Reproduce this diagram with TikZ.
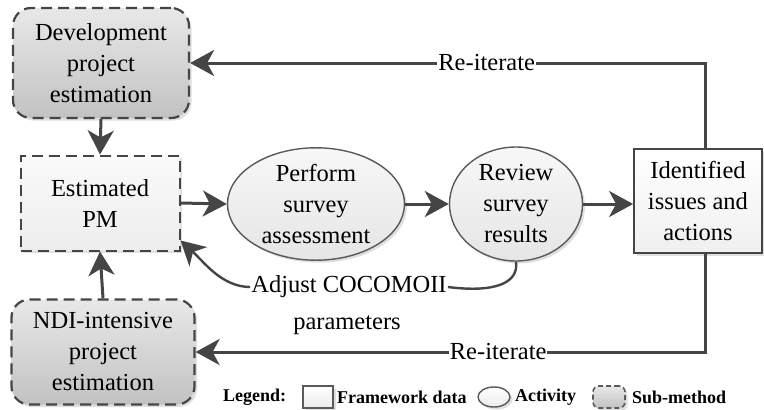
\documentclass[tikz,border=0pt]{standalone}
\usepackage{fontspec}
\setmainfont{Liberation Serif}
\usetikzlibrary{shapes.geometric,arrows.meta,shadows,calc}

\definecolor{ln}{HTML}{454545}
\definecolor{edge}{HTML}{5A5A5A}

\begin{document}
\begin{tikzpicture}[x=1pt,y=-1pt,
  txt/.style={font=\fontsize{24.5}{31}\selectfont, align=center, text=black},
  shade/.style={drop shadow={shadow xshift=2.5pt, shadow yshift=-2.5pt, fill=black!25, opacity=0.5}},
  submethod/.style={txt, shade, draw=ln, line width=2.2pt, dash pattern=on 11pt off 6pt,
    rounded corners=18pt, top color=black!9, bottom color=black!24, inner sep=0pt},
  estbox/.style={txt, shade, draw=ln, line width=2pt, dash pattern=on 11pt off 6pt,
    top color=black!2, bottom color=black!7, inner sep=0pt},
  databox/.style={txt, shade, draw=ln, line width=1.8pt, top color=white, bottom color=black!6, inner sep=0pt},
  activity/.style={txt, shade, ellipse, draw=edge, line width=1.4pt, top color=black!3, bottom color=black!10, inner sep=0pt},
  flow/.style={draw=ln, line width=3pt, -{Stealth[length=24pt, width=26pt, inset=7pt]}},
  lbl/.style={txt, fill=white, inner sep=1pt},
  leg/.style={font=\fontsize{18}{20}\selectfont\bfseries, text=black, inner sep=0pt, anchor=west},
]
\useasboundingbox (0,0) rectangle (764,410);

% sub-methods
\node[submethod, minimum width=176pt, minimum height=110pt] (dev) at (101,63)
  {Development\\project\\estimation};
\node[submethod, minimum width=183pt, minimum height=105pt] (ndi) at (103,352)
  {NDI-intensive\\project\\estimation};

% framework data
\node[estbox, minimum width=159pt, minimum height=95pt] (pm) at (100,203) {Estimated\\PM};
\node[databox, minimum width=128pt, minimum height=104pt] (id) at (698,201)
  {Identified\\issues and\\actions};

% activities
\node[activity, minimum width=177pt, minimum height=108pt] (perf) at (316,204)
  {Perform\\survey\\assessment};
\node[activity, minimum width=133pt, minimum height=114pt] (rev) at (516,204)
  {Review\\survey\\results};

% main flow
\draw[flow] (dev.south) -- (pm.north);
\draw[flow] (ndi.north) -- (pm.south);
\draw[flow] (pm.east) -- (perf.west);
\draw[flow] (perf.east) -- (rev.west);
\draw[flow] (rev.east) -- (rev.east -| id.west);

% re-iteration loops
\coordinate (tr) at (705,62);
\draw[flow] (id.north -| tr) |- node[lbl, pos=0.712] {Re-iterate} (dev.east);
\draw[flow] (id.south -| tr) |- node[lbl, pos=0.703] {Re-iterate} (ndi.east);

% parameter adjustment
\node[txt, inner sep=1pt] (adj) at (349,287) {Adjust COCOMOII};
\node[txt, inner sep=1pt] (par) at (347,325) {parameters};
\draw[draw=ln, line width=2.4pt] (rev.south) .. controls (519,283) and (495,293) .. (adj.east);
\draw[flow, line width=2.4pt] (adj.west) .. controls (222,287) and (204,262) .. ([yshift=11pt]pm.south east);

% legend
\node[leg] (lg) at (223,397) {Legend:};
\node[draw=edge, line width=1.6pt, top color=white, bottom color=black!8, shade,
  minimum width=30pt, minimum height=22pt, inner sep=0pt] (k1) at (318,397) {};
\node[leg] (k1t) at (337,397) {Framework data};
\node[ellipse, draw=edge, line width=1.4pt, top color=white, bottom color=black!8, shade,
  minimum width=32pt, minimum height=20pt, inner sep=0pt] (k2) at (494,397) {};
\node[leg] (k2t) at (515,397) {Activity};
\node[draw=edge, line width=1.6pt, dash pattern=on 5pt off 3pt, rounded corners=6pt,
  top color=black!9, bottom color=black!24, shade,
  minimum width=32pt, minimum height=22pt, inner sep=0pt] (k3) at (609,397) {};
\node[leg] (k3t) at (632,397) {Sub-method};
\end{tikzpicture}
\end{document}
